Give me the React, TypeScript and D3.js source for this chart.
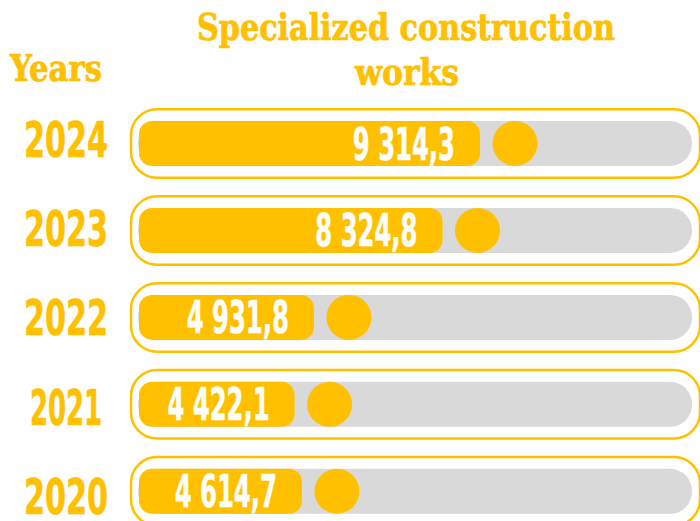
import React from "react";
import * as d3 from "d3";

const years = ["2024", "2023", "2022", "2021", "2020"];
const values = [9314.3, 8324.8, 4931.8, 4422.1, 4614.7];
const titleLines = ["Specialized construction", "works"];
const yearsHeader = "Years";

const W = 700;
const H = 521;
const GOLD = "#FFC000";
const GRAY = "#D9D9D9";

const fmt = d3.formatLocale({ decimal: ",", thousands: "\u00a0", grouping: [3], currency: ["", ""] }).format(",.1f");

export default function App() {
  const x = d3.scaleLinear().domain([0, 10000]).range([127, 506]);
  const rowY = d3.scalePoint<string>().domain(years).range([143.5, 491.3]);
  const labelY = d3.scalePoint<string>().domain(years).range([156.7, 514]);

  const barH = 45;
  const outerH = 68.5;
  const barLeft = 139;
  const grayRight = 692;
  const outerLeft = 131;
  const outerRight = 700;
  const r = 22.5;

  const numFont = "'DejaVu Sans Condensed', 'DejaVu Sans', sans-serif";
  const serifFont = "'DejaVu Serif Condensed', 'DejaVu Serif', serif";

  return (
    <svg
      width={W}
      height={H}
      viewBox={`0 0 ${W} ${H}`}
      style={{ position: "absolute", left: 0, top: 0, background: "#fff" }}
    >
      <g fontFamily={serifFont} fontWeight="bold" fontSize={37} fill={GOLD} stroke={GOLD} strokeWidth={0.7}>
        <text x={406} y={39.5} textAnchor="middle" textLength={418} lengthAdjust="spacingAndGlyphs">
          {titleLines[0]}
        </text>
        <text x={407} y={85} textAnchor="middle" textLength={104} lengthAdjust="spacingAndGlyphs">
          {titleLines[1]}
        </text>
        <text x={56} y={81} textAnchor="middle" textLength={92} lengthAdjust="spacingAndGlyphs">
          {yearsHeader}
        </text>
      </g>

      {years.map((yr, i) => {
        const cy = rowY(yr) as number;
        const v = values[i];
        const end = x(v);
        const ones = yr.split("").filter((c) => c === "1").length;
        const yearLen = (yr.length - ones) * 21 + ones * 9;
        const label = fmt(v);
        return (
          <g key={yr}>
            <rect
              x={outerLeft}
              y={cy - outerH / 2}
              width={outerRight - outerLeft}
              height={outerH}
              rx={26}
              ry={26}
              fill="#fff"
              stroke={GOLD}
              strokeWidth={2.5}
            />
            <rect
              x={barLeft - 1}
              y={cy - barH / 2}
              width={grayRight - barLeft + 1}
              height={barH}
              rx={22}
              ry={22}
              fill={GRAY}
            />
            <rect
              x={barLeft}
              y={cy - barH / 2}
              width={end - barLeft}
              height={barH}
              rx={13}
              ry={13}
              fill={GOLD}
            />
            <circle cx={end + 35} cy={cy} r={r} fill={GOLD} />
            <text
              x={end - 25}
              y={cy + 16}
              textAnchor="end"
              fontFamily={numFont}
              fontWeight="bold"
              fontSize={45}
              fill="#fff"
              stroke="#fff"
              strokeWidth={0.6}
              textLength={label.length * 14.6}
              lengthAdjust="spacingAndGlyphs"
            >
              {label}
            </text>
            <text
              x={66}
              y={labelY(yr) as number}
              textAnchor="middle"
              fontFamily={numFont}
              fontWeight="bold"
              fontSize={49}
              fill={GOLD}
              stroke={GOLD}
              strokeWidth={0.6}
              textLength={yearLen}
              lengthAdjust="spacingAndGlyphs"
            >
              {yr}
            </text>
          </g>
        );
      })}
    </svg>
  );
}
